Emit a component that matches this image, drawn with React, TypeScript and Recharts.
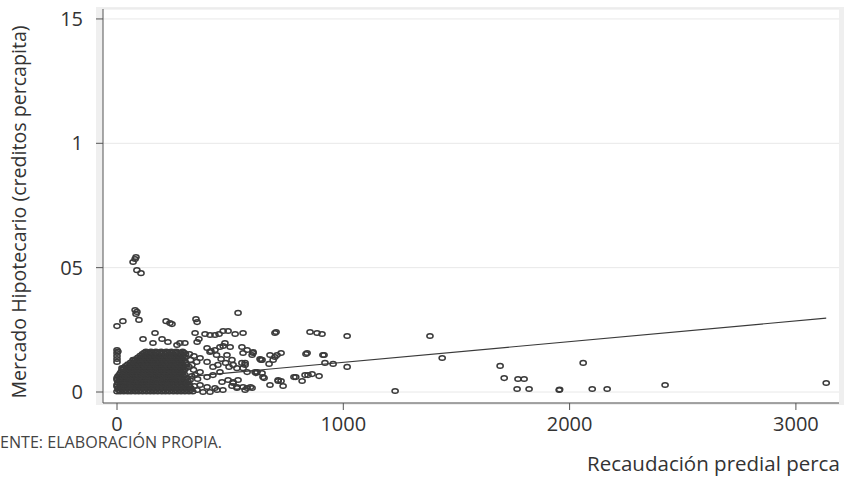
import React from 'react';
import { ScatterChart, Scatter, XAxis, YAxis, CartesianGrid } from 'recharts';

// dense cloud near the origin, one row per y level (x values)
const cloudRows: [number, number[]][] = [
  [0.0002, [0, 14, 30, 47, 62, 80, 96, 113, 130, 147, 163, 180, 198, 214, 231, 249, 266, 283, 300, 318, 335]],
  [0.0008, [7, 22, 38, 55, 71, 88, 104, 121, 138, 155, 171, 189, 206, 222, 240, 257, 274, 291, 309, 326]],
  [0.0015, [6, 22, 38, 55, 71, 88, 105, 121, 138, 155, 172, 190, 206, 223, 240, 257, 275, 292, 310, 327]],
  [0.0022, [0, 14, 30, 46, 63, 80, 96, 113, 130, 147, 164, 181, 198, 215, 232, 249, 266, 284, 302, 320]],
  [0.0029, [0, 15, 31, 47, 64, 81, 97, 114, 131, 148, 165, 182, 199, 216, 233, 250, 268, 285, 303, 320]],
  [0.0036, [4, 20, 36, 52, 69, 86, 102, 119, 136, 153, 170, 187, 204, 221, 238, 255, 272, 290, 308]],
  [0.0043, [8, 24, 40, 57, 74, 90, 107, 124, 141, 158, 175, 192, 209, 226, 243, 261, 278, 296, 314]],
  [0.0049, [0, 12, 28, 45, 62, 78, 95, 112, 129, 146, 163, 180, 197, 214, 231, 248, 266, 284, 302]],
  [0.0056, [0, 16, 33, 50, 66, 83, 100, 117, 134, 151, 168, 185, 202, 219, 236, 253, 271, 289, 307]],
  [0.0063, [4, 20, 37, 53, 70, 87, 104, 121, 138, 155, 172, 189, 206, 223, 240, 258, 276, 294]],
  [0.0069, [10, 27, 43, 60, 76, 93, 110, 127, 144, 161, 178, 195, 212, 229, 246, 264, 282, 300]],
  [0.0076, [15, 31, 48, 64, 81, 98, 115, 132, 149, 166, 183, 200, 217, 234, 251, 269, 288]],
  [0.0083, [20, 36, 53, 70, 86, 103, 120, 137, 154, 171, 188, 205, 222, 239, 257, 275, 294]],
  [0.009, [25, 41, 58, 74, 91, 108, 125, 142, 159, 176, 193, 210, 227, 245, 263, 281, 299]],
  [0.0097, [30, 46, 62, 79, 96, 113, 130, 147, 164, 181, 198, 215, 232, 250, 268, 287, 305]],
  [0.0104, [38, 55, 71, 88, 105, 122, 139, 156, 173, 190, 207, 224, 241, 259, 278, 296]],
  [0.0111, [48, 64, 80, 97, 114, 131, 148, 165, 182, 199, 216, 233, 251, 269, 288, 306]],
  [0.0118, [60, 76, 93, 110, 127, 144, 161, 178, 195, 212, 229, 247, 265, 284, 302]],
  [0.0125, [72, 88, 105, 122, 139, 156, 173, 190, 207, 224, 242, 260, 279, 298]],
  [0.0132, [82, 98, 115, 132, 149, 166, 183, 200, 217, 235, 253, 272, 291]],
  [0.0139, [92, 108, 125, 142, 159, 176, 193, 210, 227, 245, 263, 282, 300]],
  [0.0146, [102, 118, 135, 152, 169, 186, 203, 220, 238, 256, 275, 294]],
  [0.0153, [112, 128, 145, 162, 179, 196, 213, 230, 248, 266, 285, 303]],
  [0.0158, [120, 138, 155, 172, 189, 206, 224, 242, 260, 279, 297]],
  [0.0163, [128, 150, 172, 195, 218, 240, 262, 290]],
];

// scattered municipalities, [recaudación, créditos]
const sparsePoints: [number, number][] = [
  [71, 0.0523], [80, 0.0535], [84, 0.0543], [88, 0.049], [106, 0.0478],
  [80, 0.033], [88, 0.0322], [84, 0.0314], [97, 0.029],
  [0, 0.0265], [26, 0.0285],
  [217, 0.0285], [234, 0.0277], [243, 0.0273],
  [349, 0.0293], [354, 0.0281], [535, 0.0318], [703, 0.0241],
  [345, 0.0237], [389, 0.0233], [411, 0.0229], [433, 0.0229], [451, 0.0233], [469, 0.0245],
  [491, 0.0245], [522, 0.0233], [557, 0.0237],
  [698, 0.0237], [853, 0.0241], [884, 0.0237], [906, 0.0233], [1017, 0.0225],
  [641, 0.0129], [672, 0.0113], [690, 0.0129], [698, 0.0141], [707, 0.0149], [725, 0.0157],
  [835, 0.0153], [915, 0.0149], [919, 0.0117], [955, 0.0113], [1017, 0.0101],
  [650, 0.0056], [641, 0.0076], [712, 0.0044], [725, 0.0044], [676, 0.0028], [734, 0.0024],
  [782, 0.006], [818, 0.0044], [831, 0.0068], [844, 0.0068], [862, 0.0072], [893, 0.0064],
  [1229, 0.0004], [1383, 0.0225], [1437, 0.0137],
  [1693, 0.0105], [1711, 0.0056], [1772, 0.0052], [1799, 0.0052], [1768, 0.0012], [1821, 0.0012],
  [2060, 0.0117], [1954, 0.0008], [1956, 0.001], [2100, 0.0012], [2166, 0.0012], [2422, 0.0028],
  [3134, 0.0036],
  [552, 0.0181], [557, 0.0157], [601, 0.0157], [636, 0.0129], [566, 0.0117], [557, 0.0096],
  [614, 0.0076], [557, 0.002], [575, 0.0016], [597, 0.0016], [566, 0.0008],
  [115, 0.0213], [168, 0.0237], [159, 0.0197], [199, 0.0213], [225, 0.0201], [265, 0.0189],
  [278, 0.0197], [300, 0.0197], [354, 0.0201], [362, 0.0213],
  [0, 0.0169], [0, 0.0157], [0, 0.0145], [0, 0.0133], [0, 0.0121], [4, 0.0163],
  [71, 0.0129], [22, 0.0096],
  [411, 0.0161], [433, 0.0169], [455, 0.0181], [477, 0.0197], [500, 0.0181], [486, 0.0149],
  [508, 0.0129], [513, 0.0109], [530, 0.0096], [552, 0.0117], [566, 0.0109],
  [575, 0.008], [619, 0.008], [491, 0.0048], [513, 0.004], [535, 0.0048], [508, 0.0024],
  [530, 0.002], [590, 0.002],
  [367, 0.0137], [398, 0.0121], [424, 0.0101], [446, 0.0109], [367, 0.008], [398, 0.006],
  [424, 0.0068], [455, 0.008], [367, 0.0028], [398, 0.002], [433, 0.0016], [464, 0.004],
  [354, 0.0008], [380, 0], [411, 0], [442, 0.0008], [468, 0.0008], [331, 0.0109],
  [345, 0.0068], [323, 0.0048],
  [469, 0.0185], [597, 0.0149], [632, 0.0133], [676, 0.0149], [840, 0.0157], [910, 0.0149],
  [610, 0.008], [645, 0.006], [712, 0.0048], [790, 0.006], [513, 0.0036], [530, 0.0016],
  [398, 0.0177], [415, 0.0165], [440, 0.0149], [460, 0.0133], [480, 0.0117], [495, 0.0101],
  [340, 0.0145], [352, 0.0121], [338, 0.0089], [356, 0.0052], [342, 0.0024],
  [320, 0.0153], [325, 0.0129], [318, 0.0101], [330, 0.0064], [312, 0.0036],
  [575, 0.0169], [601, 0.0161],
];

// fitted values (linear fit)
const fitLine = [
  { x: 0, y: 0.0036 },
  { x: 3134, y: 0.0297 },
];

const xTicks = [0, 1000, 2000, 3000];
const yTicks = [0, 0.05, 0.1, 0.15];
const yTickLabels = ['0', '05', '1', '15'];

const points = [
  ...cloudRows.flatMap(([y, xs]) => xs.map((x) => ({ x, y }))),
  ...sparsePoints.map(([x, y]) => ({ x, y })),
];

const ink = '#3a3a3a';
const font = "'Open Sans', 'Noto Sans', sans-serif";

function HollowCircle(props: any) {
  const { cx, cy } = props;
  if (cx == null || cy == null) return <g />;
  return <ellipse cx={cx} cy={cy} rx={3.1} ry={2.3} fill="none" stroke={ink} strokeWidth={1.5} />;
}

export default function App() {
  return (
    <div style={{ position: 'fixed', left: 0, top: 0, width: 844, height: 477, background: '#fff', overflow: 'hidden' }}>
      <div style={{ position: 'absolute', left: 96, top: 7, width: 748, height: 398, background: '#efefef' }} />
      <div style={{ position: 'absolute', left: 0, top: 0 }}>
        <ScatterChart width={844} height={477} margin={{ top: 9, right: 5, bottom: 44, left: 43 }}>
          <CartesianGrid vertical={false} stroke="#e8e8e8" fill="#fff" />
          <XAxis
            type="number"
            dataKey="x"
            domain={[-61.9, 3190.5]}
            ticks={xTicks}
            interval={0}
            allowDataOverflow
            height={30}
            tickSize={7}
            tickMargin={7}
            axisLine={{ stroke: '#555' }}
            tickLine={{ stroke: '#555' }}
            tick={{ fontSize: 20, fill: '#333', fontFamily: font }}
            label={{
              content: () => (
                <text x={587} y={471} fontSize={20.5} fill="#333" fontFamily={font}>
                  Recaudación predial perca
                </text>
              ),
            }}
          />
          <YAxis
            type="number"
            dataKey="y"
            domain={[-0.00442, 0.154]}
            ticks={yTicks}
            interval={0}
            allowDataOverflow
            width={60}
            tickSize={7}
            tickMargin={13}
            tickFormatter={(v: number) => yTickLabels[yTicks.indexOf(v)] ?? ''}
            axisLine={{ stroke: '#555' }}
            tickLine={{ stroke: '#555' }}
            tick={{ fontSize: 20, fill: '#333', fontFamily: font }}
            label={{
              content: () => (
                <text
                  x={26}
                  y={212}
                  transform="rotate(-90 26 212)"
                  textAnchor="middle"
                  fontSize={19.6}
                  fill="#333"
                  fontFamily={font}
                >
                  Mercado Hipotecario (creditos percapita)
                </text>
              ),
            }}
          />
          <Scatter data={points} shape={HollowCircle} isAnimationActive={false} />
          <Scatter
            data={fitLine}
            line={{ stroke: ink, strokeWidth: 1.2 }}
            shape={() => <g />}
            isAnimationActive={false}
          />
        </ScatterChart>
      </div>
      <svg width={844} height={477} style={{ position: 'absolute', left: 0, top: 0, pointerEvents: 'none' }}>
        <text x={0} y={448} fontSize={17} fill="#444" fontFamily={font} textLength={222} lengthAdjust="spacingAndGlyphs">
          ENTE: ELABORACIÓN PROPIA.
        </text>
      </svg>
    </div>
  );
}
